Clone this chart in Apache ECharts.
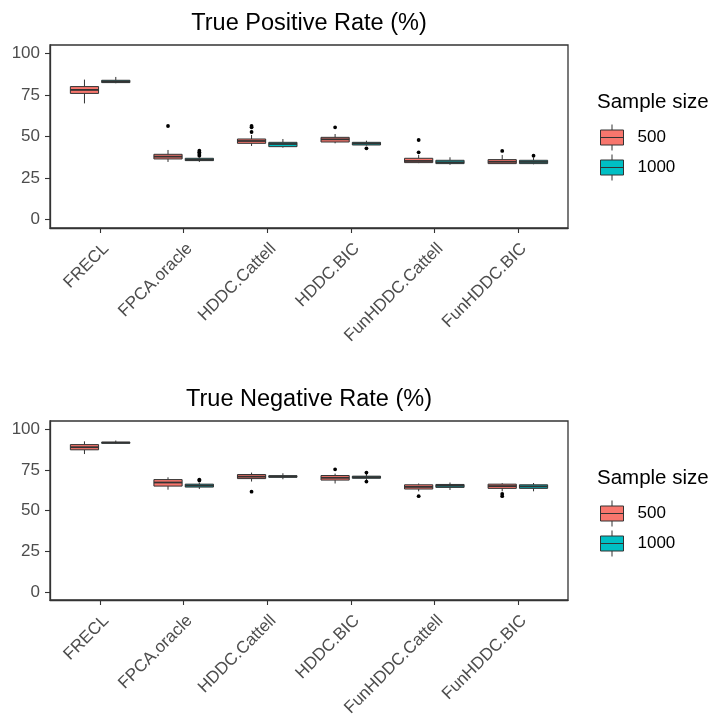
<!DOCTYPE html>
<html>
<head>
<meta charset="utf-8">
<script src="https://cdn.jsdelivr.net/npm/echarts@6/dist/echarts.min.js"></script>
<style>
html,body{margin:0;padding:0;background:#fff;}
#c{width:714px;height:719px;}
</style>
</head>
<body>
<div id="c"></div>
<script>
// ---------------- data ----------------
const categories = ['FRECL', 'FPCA.oracle', 'HDDC.Cattell', 'HDDC.BIC', 'FunHDDC.Cattell', 'FunHDDC.BIC'];
const groups = ['500', '1000'];
const panelTitles = ['True Positive Rate (%)', 'True Negative Rate (%)'];
const legendTitle = 'Sample size';
const yTicks = [0, 25, 50, 75, 100];

// [min, Q1, median, Q3, max] per method
const tpr500 = [
  [69.9, 75.9, 78.0, 80.0, 84.2],
  [34.7, 36.5, 37.9, 39.3, 41.9],
  [44.3, 45.9, 47.3, 48.5, 50.9],
  [45.9, 46.7, 48.3, 49.5, 51.5],
  [34.0, 34.3, 35.3, 36.9, 38.9],
  [33.5, 33.7, 34.8, 36.1, 38.9]
];
const tpr1000 = [
  [82.0, 82.4, 83.0, 83.8, 85.8],
  [34.7, 35.5, 36.0, 36.9, 37.5],
  [43.3, 43.9, 45.5, 46.5, 48.5],
  [44.5, 44.9, 45.8, 46.5, 47.5],
  [33.0, 33.7, 34.5, 35.7, 37.5],
  [33.3, 33.7, 34.7, 35.7, 37.5]
];
const tprOut500 = [[], [56.3], [56.3, 55.5, 52.7], [55.5], [47.9, 40.5], [41.3]];
const tprOut1000 = [[], [38.5, 39.5, 40.5, 41.5], [], [42.9], [], [38.5]];

const tnr500 = [
  [84.7, 87.3, 88.9, 90.5, 92.5],
  [62.8, 65.0, 67.2, 69.0, 70.4],
  [67.8, 69.6, 70.8, 72.1, 73.3],
  [66.6, 68.7, 70.1, 71.5, 72.7],
  [61.8, 63.2, 64.5, 65.8, 66.6],
  [61.8, 63.6, 65.0, 66.2, 66.8]
];
const tnr1000 = [
  [91.0, 91.3, 91.7, 92.0, 93.0],
  [63.2, 64.4, 65.3, 66.2, 67.0],
  [69.2, 70.4, 70.9, 71.4, 72.9],
  [68.6, 69.8, 70.5, 71.1, 72.5],
  [62.6, 64.2, 65.2, 66.0, 67.2],
  [61.8, 63.6, 64.8, 65.8, 66.9]
];
const tnrOut500 = [[], [], [61.6], [75.3], [58.8], [60.2, 58.8]];
const tnrOut1000 = [[], [69.0, 68.4], [], [73.3, 67.8], [], []];

// ---------------- styles / layout ----------------
const FONT = '"Liberation Sans", Arial, Helvetica, sans-serif';
const EDGE = '#333333';
const COLORS = ['#F8766D', '#00BFC4'];
const DODGE = 0.1875;   // ggplot position_dodge(0.75) offset
const BOXW = 0.3375;    // box width as fraction of category band
const catIdx = categories.map((_, i) => i);

const panels = [
  { top: 45, box: [tpr500, tpr1000], out: [tprOut500, tprOut1000] },
  { top: 421, box: [tnr500, tnr1000], out: [tnrOut500, tnrOut1000] }
];
const GRID_LEFT = 50, GRID_W = 518, GRID_H = 183;

function boxItem(offset, fill) {
  return function (params, api) {
    const i = api.value(0);
    const band = api.size([1, 0])[0];
    const cx = api.coord([i, 0])[0] + offset * band;
    const hw = band * BOXW / 2;
    const y = k => api.coord([i, api.value(k)])[1];
    const yMin = y(1), yQ1 = y(2), yMed = y(3), yQ3 = y(4), yMax = y(5);
    const ls = { stroke: EDGE, lineWidth: 1 };
    return {
      type: 'group',
      children: [
        { type: 'line', shape: { x1: cx, y1: yMax, x2: cx, y2: yQ3 }, style: ls },
        { type: 'line', shape: { x1: cx, y1: yQ1, x2: cx, y2: yMin }, style: ls },
        { type: 'rect', shape: { x: cx - hw, y: yQ3, width: 2 * hw, height: yQ1 - yQ3 },
          style: { fill: fill, stroke: EDGE, lineWidth: 1 } },
        { type: 'line', shape: { x1: cx - hw, y1: yMed, x2: cx + hw, y2: yMed },
          style: { stroke: EDGE, lineWidth: 1.8 } }
      ]
    };
  };
}
function outItem(offset) {
  return function (params, api) {
    const i = api.value(0);
    const band = api.size([1, 0])[0];
    const p = api.coord([i, api.value(1)]);
    return { type: 'circle', shape: { cx: p[0] + offset * band, cy: p[1], r: 1.9 },
             style: { fill: '#000' } };
  };
}

const grid = [], xAxis = [], yAxis = [], series = [], legend = [], graphic = [];
const KEY = 'path://M0,5.5H23V20.5H0Z M0,13H23 M11.5,0V5.5 M11.5,20.5V26';

panels.forEach((p, g) => {
  grid.push({ left: GRID_LEFT, top: p.top, width: GRID_W, height: GRID_H,
              show: true, borderColor: EDGE, borderWidth: 1.3, backgroundColor: 'transparent' });
  xAxis.push({
    type: 'value', gridIndex: g, min: -0.6, max: 5.6,
    axisLine: { show: true, onZero: false, lineStyle: { color: EDGE, width: 1.3 } },
    axisTick: { show: true, length: 5, customValues: catIdx, lineStyle: { color: EDGE, width: 1.1 } },
    axisLabel: { customValues: catIdx, rotate: 45, margin: 12, verticalAlign: 'top',
                 fontSize: 17, color: '#4D4D4D',
                 fontFamily: FONT, formatter: v => categories[Math.round(v)] },
    splitLine: { show: false }
  });
  yAxis.push({
    type: 'value', gridIndex: g, min: -5, max: 105,
    axisLine: { show: true, onZero: false, lineStyle: { color: EDGE, width: 1.3 } },
    axisTick: { show: true, length: 5, customValues: yTicks, lineStyle: { color: EDGE, width: 1.1 } },
    axisLabel: { customValues: yTicks, margin: 10, fontSize: 17, color: '#4D4D4D', fontFamily: FONT },
    splitLine: { show: false }
  });
  groups.forEach((name, k) => {
    const off = k === 0 ? -DODGE : DODGE;
    series.push({
      type: 'custom', name: name, xAxisIndex: g, yAxisIndex: g,
      data: p.box[k].map((b, i) => [i].concat(b)),
      encode: { x: 0, y: [1, 2, 3, 4, 5] },
      renderItem: boxItem(off, COLORS[k]),
      itemStyle: { color: COLORS[k] }, silent: true, z: 2
    });
    const pts = [];
    p.out[k].forEach((arr, i) => arr.forEach(v => pts.push([i, v])));
    series.push({
      type: 'custom', name: 'out' + name, xAxisIndex: g, yAxisIndex: g,
      data: pts, encode: { x: 0, y: 1 },
      renderItem: outItem(off), silent: true, z: 3
    });
  });
  legend.push({
    orient: 'vertical', left: 600, top: p.top + 79, padding: 0,
    itemWidth: 23, itemHeight: 26, itemGap: 3,
    selectedMode: false,
    textStyle: { fontSize: 17, color: '#000', fontFamily: FONT, padding: [0, 0, 0, 9] },
    data: groups.map((name, k) => ({
      name: name, icon: KEY,
      itemStyle: { color: COLORS[k], borderColor: EDGE, borderWidth: 1 }
    }))
  });
  graphic.push({
    type: 'text', x: GRID_LEFT + GRID_W / 2, y: p.top - 21.5,
    style: { text: panelTitles[g], fontSize: 23.5, fontFamily: FONT, fill: '#000',
             textAlign: 'center', textVerticalAlign: 'middle' }
  });
  graphic.push({
    type: 'text', x: 597, y: p.top + 57,
    style: { text: legendTitle, fontSize: 20.5, fontFamily: FONT, fill: '#000',
             textAlign: 'left', textVerticalAlign: 'middle' }
  });
});

const chart = echarts.init(document.getElementById('c'), null, { renderer: 'canvas' });
chart.setOption({
  animation: false,
  backgroundColor: '#fff',
  grid, xAxis, yAxis, series, legend, graphic
});
</script>
</body>
</html>
